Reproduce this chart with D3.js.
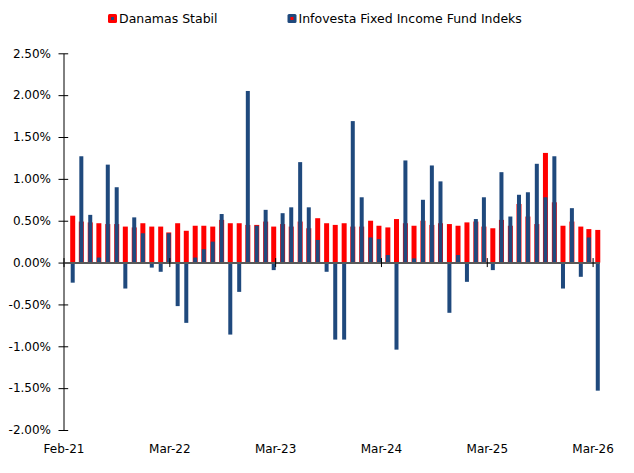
<!DOCTYPE html>
<meta charset="utf-8">
<script src="https://d3js.org/d3.v7.min.js"></script>
<style>
  body { margin: 0; background: #fff; }
  text { font-family: "DejaVu Sans", Verdana, sans-serif; fill: #000; }
</style>

<div id="chart"></div>

<script>
// monthly returns in %, one bar per month-end
var months = ["Mar-21","Apr-21","May-21","Jun-21","Jul-21","Aug-21","Sep-21","Oct-21","Nov-21","Dec-21",
  "Jan-22","Feb-22","Mar-22","Apr-22","May-22","Jun-22","Jul-22","Aug-22","Sep-22","Oct-22","Nov-22","Dec-22",
  "Jan-23","Feb-23","Mar-23","Apr-23","May-23","Jun-23","Jul-23","Aug-23","Sep-23","Oct-23","Nov-23","Dec-23",
  "Jan-24","Feb-24","Mar-24","Apr-24","May-24","Jun-24","Jul-24","Aug-24","Sep-24","Oct-24","Nov-24","Dec-24",
  "Jan-25","Feb-25","Mar-25","Apr-25","May-25","Jun-25","Jul-25","Aug-25","Sep-25","Oct-25","Nov-25","Dec-25",
  "Jan-26","Feb-26","Mar-26"];

var danamas = [0.56,0.49,0.48,0.47,0.46,0.46,0.43,0.42,0.47,0.43,
  0.43,0.36,0.47,0.38,0.44,0.44,0.43,0.51,0.47,0.47,
  0.45,0.45,0.49,0.43,0.46,0.43,0.49,0.41,0.53,0.47,
  0.45,0.47,0.43,0.43,0.50,0.44,0.42,0.52,0.47,0.44,
  0.50,0.45,0.47,0.46,0.44,0.48,0.49,0.43,0.41,0.51,
  0.44,0.70,0.55,0.46,1.31,0.72,0.44,0.49,0.43,0.40,
  0.39];

var infovesta = [-0.24,1.27,0.57,0.06,1.17,0.90,-0.31,0.54,0.35,-0.06,
  -0.11,0.35,-0.52,-0.72,0.06,0.16,0.25,0.58,-0.86,-0.35,
  2.05,0.44,0.63,-0.09,0.59,0.66,1.20,0.66,0.27,-0.11,
  -0.92,-0.92,1.69,0.78,0.30,0.28,0.09,-1.04,1.22,0.05,
  0.75,1.16,0.97,-0.60,0.09,-0.23,0.52,0.78,-0.09,1.08,
  0.55,0.81,0.84,1.18,0.78,1.27,-0.31,0.65,-0.17,0.30,
  -1.53];

var seriesNames = ["Danamas Stabil", "Infovesta Fixed Income Fund Indeks"];

// date axis ticks (every 368 days, as in the source chart)
var tickDates = ["2021-02-27","2022-03-02","2023-03-05","2024-03-07","2025-03-10","2026-03-13"];
var yTicks = [-2, -1.5, -1, -0.5, 0, 0.5, 1, 1.5, 2, 2.5];

var red = "#ff0000", blue = "#1f497d";

var width = 634, height = 473;
var plotLeft = 63.5, plotRight = 599.5, plotTop = 53.3, plotBottom = 430;

var svg = d3.select("#chart")
  .append("svg")
    .attr("width", width)
    .attr("height", height);

var parseMonth = d3.timeParse("%b-%y");
var parseDay = d3.timeParse("%Y-%m-%d");
var fmt = d3.timeFormat("%b-%y");

// bar sits on the last day of the month
function monthEnd(m) {
  return d3.timeDay.offset(d3.timeMonth.offset(parseMonth(m), 1), -1);
}

var data = months.map(function(m, i) {
  return { date: monthEnd(m), a: danamas[i], b: infovesta[i] };
});
var ticks = tickDates.map(parseDay);

var x = d3.scaleTime()
  .domain([ticks[0], parseDay("2026-04-06")])
  .range([plotLeft, plotRight]);

var y = d3.scaleLinear()
  .domain([-2, 2.5])
  .range([plotBottom, plotTop]);

// red bars first, blue ones over them
svg.append("g").selectAll("rect")
  .data(data)
  .enter()
  .append("rect")
    .attr("x", function(d) { return x(d.date) - 2.5; })
    .attr("width", 5)
    .attr("y", function(d) { return y(Math.max(0, d.a)); })
    .attr("height", function(d) { return Math.abs(y(d.a) - y(0)); })
    .attr("fill", red);

svg.append("g").selectAll("rect")
  .data(data)
  .enter()
  .append("rect")
    .attr("x", function(d) { return x(d.date) - 2; })
    .attr("width", 4)
    .attr("y", function(d) { return y(Math.max(0, d.b)); })
    .attr("height", function(d) { return Math.abs(y(d.b) - y(0)); })
    .attr("fill", blue);

// y axis
var yAxis = svg.append("g")
  .attr("transform", "translate(" + plotLeft + ",0)")
  .call(d3.axisLeft(y)
    .tickValues(yTicks)
    .tickSizeInner(5)
    .tickSizeOuter(0)
    .tickPadding(7.5)
    .tickFormat(function(d) { return d.toFixed(2) + "%"; }));
yAxis.select(".domain").attr("stroke", "#000");
yAxis.selectAll(".tick line").attr("x1", 4.7).attr("stroke", "#000");
yAxis.selectAll("text").style("font-size", "12px");

// zero line with crossing ticks
var zeroAxis = svg.append("g")
  .attr("transform", "translate(0," + y(0) + ")")
  .call(d3.axisBottom(x)
    .tickValues(ticks)
    .tickSizeInner(4.5)
    .tickSizeOuter(0)
    .tickFormat(""));
zeroAxis.select(".domain").attr("stroke", "#595959").attr("stroke-width", 2);
zeroAxis.selectAll(".tick line").attr("y1", -4.5).attr("stroke", "#000");

// month labels along the bottom
var xAxis = svg.append("g")
  .attr("transform", "translate(0," + plotBottom + ")")
  .call(d3.axisBottom(x)
    .tickValues(ticks)
    .tickSize(0)
    .tickPadding(14.5)
    .tickFormat(fmt));
xAxis.select(".domain").remove();
xAxis.selectAll("text").style("font-size", "12px");

// legend
var legend = [
  { name: seriesNames[0], fill: red, dot: blue, x: 108 },
  { name: seriesNames[1], fill: blue, dot: red, x: 287.5 }
];
var lg = svg.append("g").selectAll("g")
  .data(legend)
  .enter()
  .append("g")
    .attr("transform", function(d) { return "translate(" + d.x + ",14)"; });
lg.append("rect")
  .attr("width", 9).attr("height", 9).attr("rx", 1.5)
  .attr("fill", function(d) { return d.fill; });
lg.append("rect")
  .attr("x", 3).attr("y", 3).attr("width", 3).attr("height", 3)
  .attr("fill", function(d) { return d.dot; });
lg.append("text")
  .attr("x", 11)
  .attr("y", 9.3)
  .style("font-size", "12.5px")
  .text(function(d) { return d.name; });
</script>
